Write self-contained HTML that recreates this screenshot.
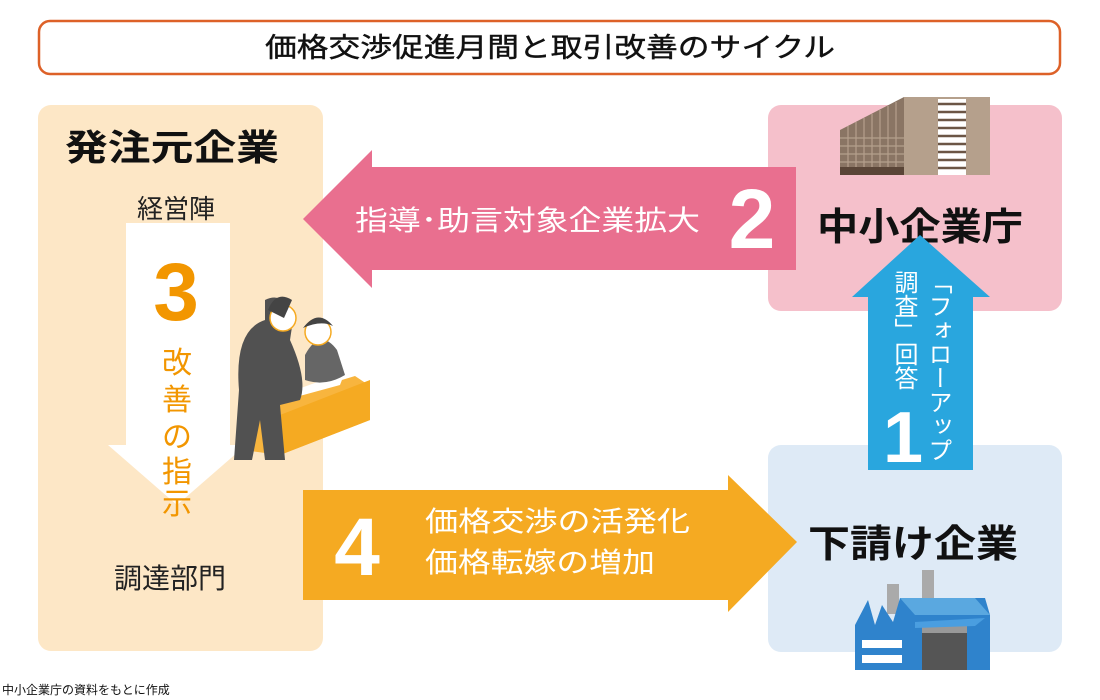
<!DOCTYPE html>
<html><head><meta charset="utf-8"><style>
html,body{margin:0;padding:0;background:#fff;}
svg{display:block;font-family:"Liberation Sans","Noto Sans CJK JP",sans-serif;}
.v{position:absolute;writing-mode:vertical-rl;font-family:"Noto Sans CJK JP",sans-serif;color:#fff;font-size:24px;line-height:26px;letter-spacing:0;}
</style></head><body>
<div style="position:relative;width:1100px;height:700px;">
<svg width="1100" height="700" viewBox="0 0 1100 700" xmlns="http://www.w3.org/2000/svg">
<rect x="0" y="0" width="1100" height="700" fill="#fff"/>
<rect x="39" y="21" width="1021" height="53" rx="11" fill="#fff" stroke="#dd6128" stroke-width="2.5"/>
<text x="550" y="57" font-size="27" text-anchor="middle" textLength="570" lengthAdjust="spacingAndGlyphs" fill="#111" stroke="#111" stroke-width="0.4">価格交渉促進月間と取引改善のサイクル</text>
<rect x="38" y="105" width="285" height="546" rx="13" fill="#fde7c6"/>
<rect x="768" y="105" width="294" height="206" rx="13" fill="#f5c0cb"/>
<rect x="768" y="445" width="294" height="207" rx="13" fill="#deeaf6"/>
<!-- building -->
<polygon points="840,130 904,97 904,175 840,175" fill="#8a7564"/>
<g stroke="#b5a08c" stroke-width="1.2">
<line x1="840" y1="138" x2="904" y2="138"/><line x1="840" y1="146" x2="904" y2="146"/><line x1="840" y1="154" x2="904" y2="154"/><line x1="840" y1="162" x2="904" y2="162"/>
<line x1="848" y1="126" x2="848" y2="175"/><line x1="856" y1="122" x2="856" y2="175"/><line x1="864" y1="118" x2="864" y2="175"/><line x1="872" y1="114" x2="872" y2="175"/><line x1="880" y1="110" x2="880" y2="175"/><line x1="888" y1="106" x2="888" y2="175"/><line x1="896" y1="102" x2="896" y2="175"/>
</g>
<rect x="904" y="97" width="86" height="78" fill="#b5a08c"/>
<rect x="938" y="99" width="28" height="76" fill="#fff"/>
<g stroke="#6b5545" stroke-width="2.5">
<line x1="938" y1="104" x2="966" y2="104"/><line x1="938" y1="112" x2="966" y2="112"/><line x1="938" y1="120" x2="966" y2="120"/><line x1="938" y1="128" x2="966" y2="128"/><line x1="938" y1="136" x2="966" y2="136"/><line x1="938" y1="144" x2="966" y2="144"/><line x1="938" y1="152" x2="966" y2="152"/><line x1="938" y1="160" x2="966" y2="160"/><line x1="938" y1="168" x2="966" y2="168"/>
</g>
<rect x="840" y="167" width="64" height="8" fill="#5a4537"/>
<!-- factory -->
<rect x="922" y="570" width="12" height="30" fill="#aaa"/>
<rect x="887" y="584" width="12" height="30" fill="#aaa"/>
<polygon points="855,670 855,625 868,600 875,625 882,605 893,622 900,598 985,598 990,615 990,670" fill="#2f83cc"/>
<polygon points="900,598 975,598 990,615 915,615" fill="#5aa8e0"/>
<rect x="922" y="625" width="45" height="45" fill="#555"/>
<rect x="922" y="625" width="45" height="8" fill="#999"/>
<polygon points="915,622 985,618 975,626 915,628" fill="#4a9ee0"/>
<g fill="#fff"><rect x="862" y="640" width="40" height="8"/><rect x="862" y="655" width="40" height="8"/></g>
<!-- pink arrow -->
<polygon points="303,219 372,150 372,167 796,167 796,270 372,270 372,288" fill="#e96f8f"/>
<text x="355" y="230" font-size="28" fill="#fff" textLength="345" lengthAdjust="spacingAndGlyphs">指導･助言対象企業拡大</text>
<text x="752" y="248" font-size="84" font-weight="bold" fill="#fff" text-anchor="middle">2</text>
<text x="920" y="240" font-size="38" font-weight="bold" fill="#111" text-anchor="middle" textLength="206" lengthAdjust="spacingAndGlyphs">中小企業庁</text>
<!-- blue arrow -->
<polygon points="920,235 990,297 973,297 973,470 868,470 868,297 852,297" fill="#29a6de"/>
<text x="903" y="462" font-size="72" font-weight="bold" fill="#fff" text-anchor="middle">1</text>
<text x="913" y="557" font-size="38" font-weight="bold" fill="#111" text-anchor="middle" textLength="210" lengthAdjust="spacingAndGlyphs">下請け企業</text>
<!-- orange arrow -->
<polygon points="303,490 728,490 728,475 797,542 728,612 728,600 303,600" fill="#f5aa22"/>
<text x="357" y="575" font-size="82" font-weight="bold" fill="#fff" text-anchor="middle">4</text>
<text x="425" y="531" font-size="28" fill="#fff" textLength="265" lengthAdjust="spacingAndGlyphs">価格交渉の活発化</text>
<text x="425" y="572" font-size="28" fill="#fff" textLength="230" lengthAdjust="spacingAndGlyphs">価格転嫁の増加</text>
<!-- left panel -->
<text x="172" y="160" font-size="36" font-weight="bold" fill="#111" text-anchor="middle" textLength="214" lengthAdjust="spacingAndGlyphs">発注元企業</text>
<text x="176" y="218" font-size="26" fill="#222" text-anchor="middle">経営陣</text>
<polygon points="126,223 230,223 230,445 246,445 177,505 108,445 126,445" fill="#fff"/>
<text x="176" y="320" font-size="82" font-weight="bold" fill="#f29600" text-anchor="middle">3</text>
<g font-size="30" fill="#f29600" text-anchor="middle">
<text x="177" y="373">改</text><text x="177" y="410">善</text><text x="177" y="447">の</text><text x="177" y="482">指</text><text x="177" y="514">示</text>
</g>
<text x="170" y="588" font-size="28" fill="#222" text-anchor="middle">調達部門</text>
<!-- illustration -->
<polygon points="243,410 355,376 370,386 370,420 280,455 243,450" fill="#f8b53e"/>
<polygon points="280,415 370,380 370,420 280,455" fill="#f5aa22"/>
<polygon points="290,392 345,372 340,385 285,400" fill="#fff"/>
<path d="M305,355 q15,-28 32,-5 l8,25 q-20,12 -40,5 z" fill="#666"/>
<circle cx="318" cy="332" r="13" fill="#fff" stroke="#f5aa22" stroke-width="1.5"/>
<path d="M303,328 q15,-20 30,-2 q-12,-6 -30,2z" fill="#444"/>
<path d="M265,300 q20,-10 28,20 l-3,20 q18,40 10,60 l-20,5 l5,55 l-20,0 l-5,-40 l-8,40 h-18 l5,-70 q-5,-60 26,-70z" fill="#515151"/>
<circle cx="283" cy="318" r="13" fill="#fff" stroke="#f5aa22" stroke-width="1.5"/>
<path d="M268,310 q8,-20 24,-10 l-8,18 z" fill="#444"/>
<text x="2" y="694" font-size="12" fill="#111">中小企業庁の資料をもとに作成</text>
</svg>
<div class="v" style="left:927px;top:270px;">「フォローアップ</div>
<div class="v" style="left:893px;top:270px;">調査」回答</div>
</div>
</body></html>
